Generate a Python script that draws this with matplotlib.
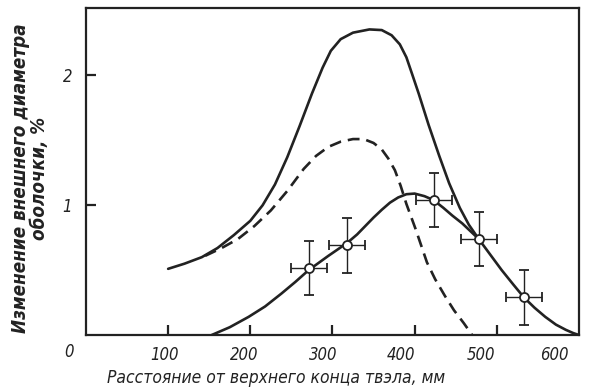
from matplotlib import pyplot as plt
import numpy as np

# upper solid curve
upper_x = [100, 120, 141, 160, 180, 200, 215, 230, 245, 260, 275, 288, 298, 310, 325, 345,
           360, 372, 382, 390, 397, 405, 417, 430, 442, 455, 466, 478]
upper_y = [0.51, 0.55, 0.60, 0.67, 0.77, 0.88, 1.00, 1.16, 1.37, 1.61, 1.86, 2.06, 2.19, 2.28, 2.33, 2.355,
           2.35, 2.31, 2.24, 2.14, 2.01, 1.86, 1.62, 1.38, 1.17, 0.98, 0.85, 0.74]

# dashed curve
dash_x = [145, 165, 185, 205, 225, 245, 265, 280, 295, 310, 325, 338, 350, 360, 368, 376,
          383, 390, 401, 415, 425, 437, 448, 460, 470]
dash_y = [0.61, 0.67, 0.74, 0.84, 0.96, 1.11, 1.28, 1.38, 1.45, 1.49, 1.51, 1.51, 1.48, 1.43, 1.36, 1.27,
          1.15, 1.01, 0.82, 0.56, 0.43, 0.30, 0.19, 0.09, 0.0]

# lower solid curve
lower_x = [153, 175, 198, 218, 238, 255, 271, 295, 318, 330, 340, 350, 360, 370, 380, 390, 400,
           412, 423, 435, 446, 458, 468, 478, 492, 506, 520, 533, 546, 559, 572, 584, 593, 600]
lower_y = [0.0, 0.06, 0.14, 0.22, 0.32, 0.41, 0.50, 0.61, 0.71, 0.775, 0.84, 0.905, 0.965, 1.02, 1.06, 1.085, 1.09,
           1.07, 1.04, 0.98, 0.92, 0.86, 0.80, 0.74, 0.62, 0.50, 0.39, 0.29, 0.21, 0.14, 0.08, 0.04, 0.015, 0.0]

# measured points
meas_x = [271, 318, 424, 478, 533]
meas_y = [0.515, 0.69, 1.04, 0.74, 0.29]
meas_xerr = 22
meas_yerr = 0.21

xticks = [100, 200, 300, 400, 500]
# the printed numbers drift left of their ticks in the scan
xlabel_pos = [96, 193, 289, 384, 481, 570]
xlabel_txt = ['100', '200', '300', '400', '500', '600']
yticks = [1, 2]

plt.rcParams['font.family'] = ['DejaVu Sans']
plt.rcParams['font.stretch'] = 'condensed'
plt.rcParams['font.style'] = 'italic'

ink = '#222222'
fig = plt.figure(figsize=(5.95, 3.91), dpi=100)
ax = fig.add_axes([0.1445, 0.1432, 0.8285, 0.8363])

ax.plot(upper_x, upper_y, color=ink, lw=1.9, solid_capstyle='round', solid_joinstyle='round')
ax.plot(dash_x, dash_y, color=ink, lw=1.9, dashes=(4.5, 2.6))
ax.plot(lower_x, lower_y, color=ink, lw=1.9, solid_capstyle='round', solid_joinstyle='round')
ax.errorbar(meas_x, meas_y, xerr=meas_xerr, yerr=meas_yerr, fmt='o', ms=6.5,
            mfc='white', mec=ink, mew=1.3, ecolor=ink, elinewidth=1.0,
            capsize=3.3, capthick=1.0, zorder=5)

ax.set_xlim(0, 600)
ax.set_ylim(0, 2.52)
ax.set_xticks(xticks, labels=[''] * len(xticks))
ax.set_xticks(xlabel_pos, labels=xlabel_txt, minor=True)
ax.set_yticks(yticks)
ax.tick_params(axis='x', which='major', direction='in', length=7, width=1.6, color=ink)
ax.tick_params(axis='x', which='minor', length=0, pad=8, labelsize=12, labelcolor=ink)
ax.tick_params(axis='y', which='major', direction='in', length=7, width=1.6, color=ink,
               pad=10, labelsize=12, labelcolor=ink)
for s in ax.spines.values():
    s.set_linewidth(1.6)
    s.set_color(ink)

ax.annotate('0', xy=(0, 0), xycoords='axes fraction', xytext=(-12, -12),
            textcoords='offset points', ha='center', va='center', fontsize=12, color=ink)

fig.text(276 / 595, 1 - 378 / 391, 'Расстояние от верхнего конца твэла, мм',
         ha='center', va='center', fontsize=12.5, color=ink)
fig.text(30 / 595, 1 - 178 / 391, 'Изменение внешнего диаметра\nоболочки, %',
         ha='center', va='center', rotation=90, multialignment='center',
         fontsize=13.5, fontweight='bold', color=ink, linespacing=0.95)

fig.savefig('out.png')
